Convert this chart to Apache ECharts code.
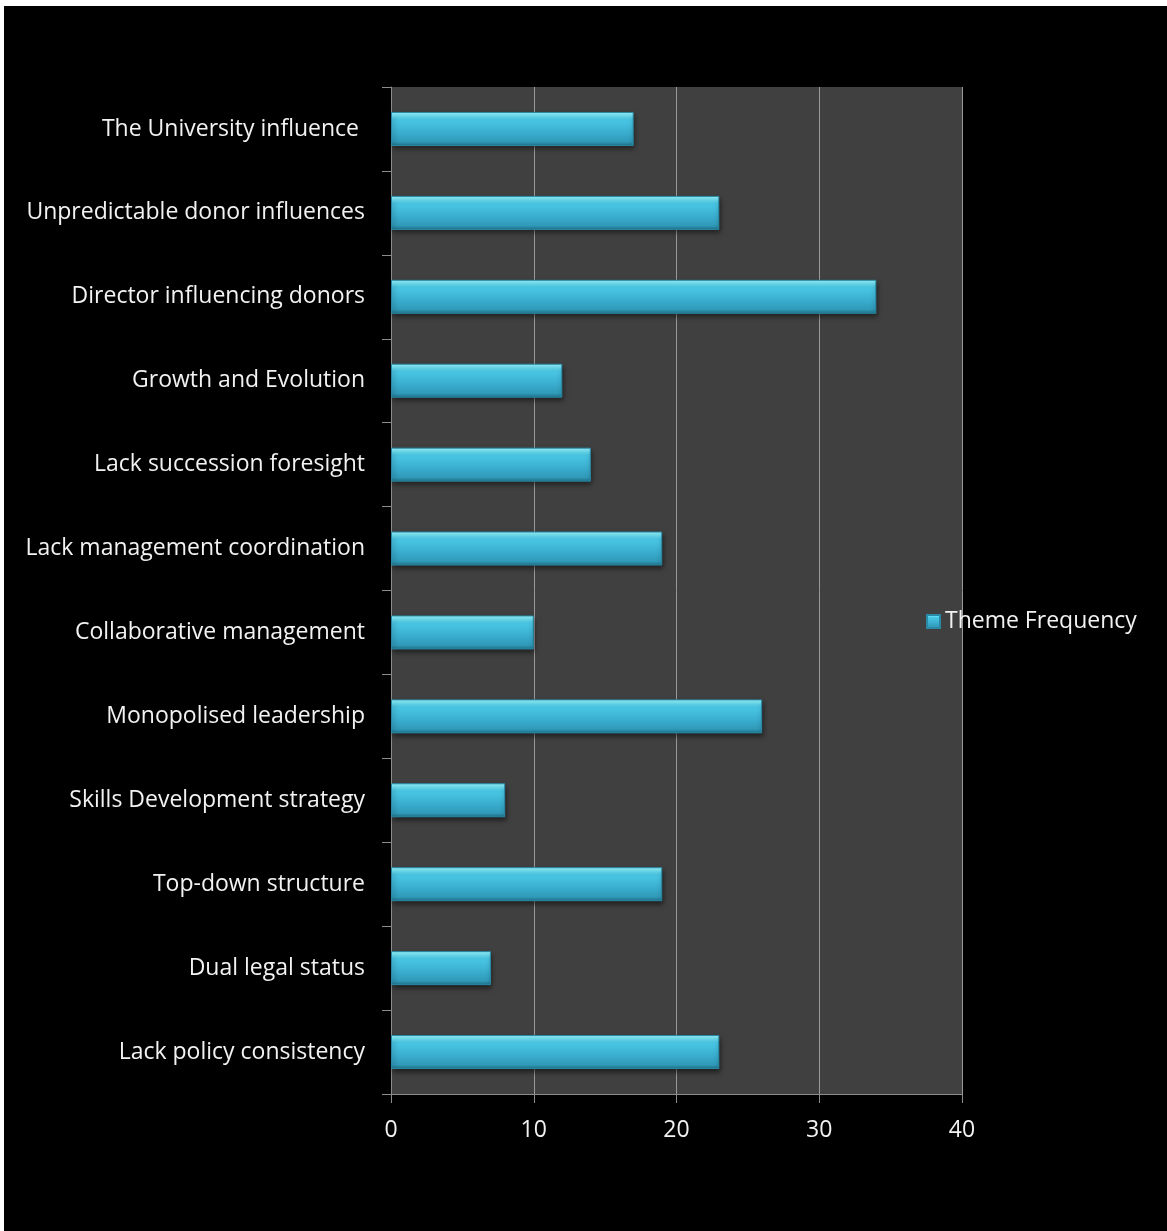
<!DOCTYPE html>
<html>
<head>
<meta charset="utf-8">
<script src="https://cdn.jsdelivr.net/npm/echarts@6/dist/echarts.min.js"></script>
<style>
html,body{margin:0;padding:0;background:#ffffff;width:1167px;height:1231px;overflow:hidden;}
#chart{position:absolute;left:4px;top:6px;width:1163px;height:1225px;background:#000;}
</style>
</head>
<body>
<div id="chart"></div>
<script>
const categories = [
  "The University influence ",
  "Unpredictable donor influences",
  "Director influencing donors",
  "Growth and Evolution",
  "Lack succession foresight",
  "Lack management coordination",
  "Collaborative management",
  "Monopolised leadership",
  "Skills Development strategy",
  "Top-down structure",
  "Dual legal status",
  "Lack policy consistency"
];
const themeFrequency = [17, 23, 34, 12, 14, 19, 10, 26, 8, 19, 7, 23];
const seriesName = "Theme Frequency";
const xTicks = { min: 0, max: 40, interval: 10 };

const font = "'Open Sans', sans-serif";
const barGradient = new echarts.graphic.LinearGradient(0, 0, 0, 1, [
  { offset: 0, color: '#a0f8ff' },
  { offset: 0.1, color: '#78ecfd' },
  { offset: 0.22, color: '#4ac8e6' },
  { offset: 0.6, color: '#3aaecf' },
  { offset: 0.88, color: '#3099b8' },
  { offset: 1, color: '#1d6f86' }
]);

const chart = echarts.init(document.getElementById('chart'), null, { renderer: 'canvas' });
chart.setOption({
  backgroundColor: '#000000',
  animation: false,
  grid: {
    left: 387, right: 205, top: 81, bottom: 137,
    show: true, backgroundColor: '#404040', borderWidth: 0, containLabel: false
  },
  legend: {
    data: [seriesName],
    left: 917, top: 599,
    icon: 'rect', itemWidth: 13, itemHeight: 13, itemGap: 6,
    textStyle: { color: '#f2f2f2', fontSize: 23, fontFamily: font }
  },
  xAxis: {
    type: 'value', min: xTicks.min, max: xTicks.max, interval: xTicks.interval,
    axisLine: { show: true, lineStyle: { color: '#8c8c8c', width: 1 } },
    axisTick: { show: true, length: 9, lineStyle: { color: '#8c8c8c' } },
    axisLabel: { color: '#f2f2f2', fontSize: 23, fontFamily: font, margin: 25 },
    splitLine: { show: true, lineStyle: { color: '#9a9a9a', width: 1 } }
  },
  yAxis: {
    type: 'category', data: categories, inverse: true,
    axisLine: { show: true, lineStyle: { color: '#8c8c8c', width: 1 } },
    axisTick: { show: true, length: 9, alignWithLabel: false, lineStyle: { color: '#8c8c8c' } },
    axisLabel: { color: '#f2f2f2', fontSize: 23, fontFamily: font, margin: 26, padding: [3, 0, 0, 0] },
    splitLine: { show: false }
  },
  series: [{
    name: seriesName,
    type: 'bar',
    data: themeFrequency,
    barWidth: 34,
    itemStyle: {
      color: barGradient,
      borderColor: '#2a8aa6', borderWidth: 1,
      shadowColor: 'rgba(0,0,0,0.55)', shadowBlur: 5, shadowOffsetY: 3, shadowOffsetX: 1
    }
  }]
});
</script>
</body>
</html>
